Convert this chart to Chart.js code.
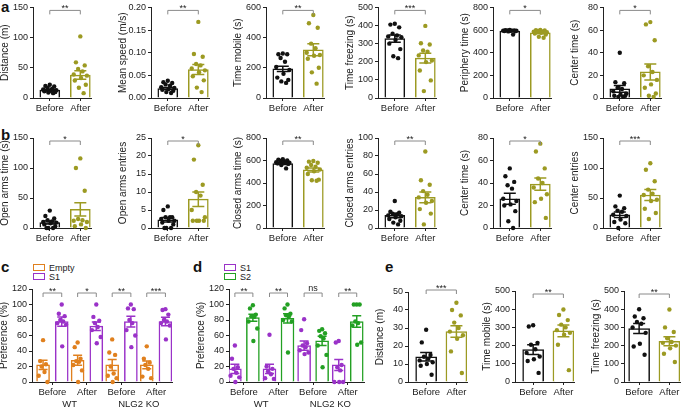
<!DOCTYPE html>
<html>
<head>
<meta charset="utf-8">
<script src="https://cdn.jsdelivr.net/npm/chart.js@4"></script>
<style>
body{margin:0;background:#fff;width:685px;height:407px;position:relative;overflow:hidden;font-family:"Liberation Sans",Arial,sans-serif}
canvas{position:absolute}
.lt{position:absolute;font-weight:bold;font-size:15px;line-height:15px;color:#111}
.lg{position:absolute;font-size:9px;line-height:10px;color:#222}
.bx{position:absolute;width:10px;height:5px;border:1.5px solid}
</style>
</head>
<body>
<div class="lt" style="left:1px;top:-1px">a</div>
<div class="lt" style="left:1px;top:127px">b</div>
<div class="lt" style="left:1px;top:259px">c</div>
<div class="lt" style="left:193px;top:259px">d</div>
<div class="lt" style="left:385px;top:259px">e</div>

<div class="bx" style="left:33px;top:264px;border-color:#e0801e"></div><div class="lg" style="left:49px;top:263px">Empty</div>
<div class="bx" style="left:33px;top:273px;border-color:#9a32c8"></div><div class="lg" style="left:49px;top:272px">S1</div>
<div class="bx" style="left:224px;top:264px;border-color:#9a32c8"></div><div class="lg" style="left:240px;top:263px">S1</div>
<div class="bx" style="left:224px;top:273px;border-color:#23a023"></div><div class="lg" style="left:240px;top:272px">S2</div>

<script>
const BLACK = '#111', OLIVE = '#9c9a22', ORANGE = '#e0801e', PURPLE = '#9a32c8', GREEN = '#23a023';

// tick labels
const pairLabels = ['Before', 'After'];
const sessionLabels = ['Before', 'After', 'Before', 'After'];
const genotypes = ['WT', 'NLG2 KO'];

// a: open field
const ofDistBefore = [22, 20, 19, 17, 15, 14, 13, 12, 11, 10, 9, 8];
const ofDistAfter = [102, 59, 54, 48, 44, 39, 37, 33, 29, 22, 17, 8];
const ofDistMean = [13, 38], ofDistSem = [1.5, 7];
const ofSpeedBefore = [0.038, 0.035, 0.033, 0.03, 0.027, 0.024, 0.022, 0.02, 0.018, 0.016, 0.013, 0.011];
const ofSpeedAfter = [0.168, 0.097, 0.091, 0.075, 0.072, 0.065, 0.061, 0.057, 0.048, 0.039, 0.023, 0.013];
const ofSpeedMean = [0.021, 0.063], ofSpeedSem = [0.002, 0.011];
const ofMobileBefore = [295, 290, 290, 265, 240, 205, 185, 160, 135, 120, 110, 100];
const ofMobileAfter = [550, 495, 465, 360, 330, 300, 285, 280, 260, 200, 170, 95];
const ofMobileMean = [193, 319], ofMobileSem = [18, 40];
const ofFreezeBefore = [410, 405, 390, 355, 345, 340, 335, 320, 300, 270, 230, 220];
const ofFreezeAfter = [398, 302, 295, 262, 255, 235, 207, 198, 152, 97, 38];
const ofFreezeMean = [328, 220], ofFreezeSem = [20, 27];
const ofPeriBefore = [600, 598, 597, 596, 595, 595, 594, 593, 592, 590, 588, 560];
const ofPeriAfter = [600, 598, 596, 592, 588, 585, 580, 576, 570, 560, 540, 532];
const ofPeriMean = [592, 575], ofPeriSem = [3, 7];
const ofCenterBefore = [40, 14, 13, 9, 8, 6, 4, 3, 2, 2, 1, 1];
const ofCenterAfter = [67, 65, 51, 28, 23, 20, 16, 12, 9, 4, 2, 1];
const ofCenterMean = [8, 23], ofCenterSem = [3, 7];
const ofStars = ['**', '**', '**', '***', '*', '*'];

// b: elevated plus maze
const epmOpenTimeBefore = [29, 20, 16, 13, 11, 10, 9, 8, 6, 3, 0, 0, 0];
const epmOpenTimeAfter = [116, 100, 62, 15, 13, 12, 10, 6, 3, 0];
const epmOpenTimeMean = [9, 31], epmOpenTimeSem = [2.5, 11];
const epmOpenEntBefore = [6, 5, 3, 3, 3, 2.5, 2, 2, 1.5, 1, 0, 0, 0];
const epmOpenEntAfter = [23, 19, 12, 10, 9, 5, 3, 2, 2, 2, 2];
const epmOpenEntMean = [2.3, 8], epmOpenEntSem = [0.6, 2];
const epmClosedTimeBefore = [612, 608, 600, 595, 590, 585, 580, 578, 575, 570, 560, 530];
const epmClosedTimeAfter = [595, 590, 580, 560, 545, 535, 520, 505, 480, 430, 425, 420];
const epmClosedTimeMean = [572, 516], epmClosedTimeSem = [7, 18];
const epmClosedEntBefore = [30, 18, 17, 16, 15, 14, 13, 12, 10, 8, 6, 4];
const epmClosedEntAfter = [85, 53, 48, 41, 37, 34, 30, 28, 21, 16, 4];
const epmClosedEntMean = [14, 34], epmClosedEntSem = [2.5, 6];
const epmCenterTimeBefore = [53, 46, 41, 38, 35, 26, 24, 21, 20, 15, 6, 0];
const epmCenterTimeAfter = [75, 68, 53, 44, 40, 36, 30, 26, 23, 9];
const epmCenterTimeMean = [26, 39], epmCenterTimeSem = [4.8, 5.5];
const epmCenterEntBefore = [54, 36, 33, 29, 27, 22, 20, 14, 10, 8, 0];
const epmCenterEntAfter = [108, 97, 78, 64, 57, 55, 47, 45, 32, 25, 15];
const epmCenterEntMean = [22, 55], epmCenterEntSem = [4.5, 9];
const epmStars = ['*', '*', '**', '**', '*', '***'];

// c: preference, Empty vs S1
const cEmpty = [[54, 27, 23, 20, 13, 8, 0], [51, 45, 30, 27, 26, 22, 15, 0], [55, 38, 35, 20, 11, 8, 5, 0], [46, 30, 25, 22, 17, 7, 5]];
const cS1 = [[100, 88, 85, 80, 78, 76, 74, 46], [100, 84, 79, 76, 71, 67, 58, 50], [100, 95, 94, 80, 76, 67, 60, 45], [94, 93, 87, 80, 78, 76, 73, 55]];
const cEmptyMean = [22, 28, 22, 22], cEmptySem = [6, 6.5, 7, 5];
const cS1Mean = [78, 72, 78, 78], cS1Sem = [6, 5.5, 7, 5.5];
const cStars = ['**', '*', '**', '***'];

// d: preference, S1 vs S2
const dS1 = [[47, 30, 19, 17, 12, 8, 6, 0], [61, 20, 17, 14, 10, 5, 4], [81, 67, 50, 47, 45, 41, 38, 36], [53, 51, 22, 19, 15, 0, 0, 0]];
const dS2 = [[99, 95, 87, 85, 84, 78, 69, 53], [100, 95, 88, 86, 85, 80, 78, 38], [68, 66, 63, 59, 56, 47, 35, 19], [100, 100, 100, 78, 76, 73, 51, 48]];
const dS1Mean = [17, 17, 47, 22], dS1Sem = [6, 6, 6, 7];
const dS2Mean = [83, 82, 53, 78], dS2Sem = [4.5, 6, 6, 7.5];
const dStars = ['**', '**', 'ns', '**'];

// e
const eDistBefore = [29, 22, 15, 14, 13, 12, 11, 10, 9, 4];
const eDistAfter = [44, 40, 37, 33, 30, 28, 26, 24, 17, 5];
const eDistMean = [14, 28], eDistSem = [2.4, 3.2];
const eMobileBefore = [312, 305, 215, 205, 180, 160, 140, 125, 115, 50];
const eMobileAfter = [398, 368, 340, 315, 300, 285, 270, 260, 205, 65];
const eMobileMean = [178, 281], eMobileSem = [27, 32];
const eFreezeBefore = [400, 360, 350, 330, 320, 300, 270, 210, 195, 150];
const eFreezeAfter = [398, 300, 275, 240, 220, 215, 200, 185, 155, 110];
const eFreezeMean = [294, 224], eFreezeSem = [27, 25];
const eStars = ['***', '**', '**'];

const YW = 34;
const PATTERN = [0, -0.6, 0.6, -0.3, 0.3, -0.9, 0.9, 0.1, -0.75, 0.75, -0.2, 0.45, -0.45];
Chart.defaults.font.family = '"Liberation Sans", Arial, sans-serif';
Chart.defaults.color = '#222';

function drawPanel(c) {
    const xh = c.xh || 16;
    const w = Math.round(YW + (c.xMax - c.xMin) * c.unit + 3);
    const h = Math.round(c.padTop + (c.bottom - c.top) + xh);
    const cv = document.createElement('canvas');
    cv.width = w; cv.height = h;
    cv.style.left = (c.axisX - YW) + 'px';
    cv.style.top = (c.top - c.padTop) + 'px';
    cv.style.width = w + 'px'; cv.style.height = h + 'px';
    document.body.appendChild(cv);

    const datasets = c.groups.map(g => ({
        type: 'scatter',
        data: g.vals.map((v, i) => ({x: g.x + PATTERN[i % PATTERN.length] * c.jit, y: v})),
        pointRadius: 2.2,
        pointBackgroundColor: g.color,
        pointBorderWidth: 0,
        clip: false,
        order: 1
    }));
    datasets.push({
        type: 'bar',
        data: c.groups.map(g => ({x: g.x, y: g.mean})),
        backgroundColor: '#fff',
        borderColor: c.groups.map(g => g.color),
        borderWidth: 1.5,
        barThickness: c.barPx,
        order: 2
    });

    new Chart(cv, {
        type: 'bar',
        data: {datasets: datasets},
        options: {
            responsive: false,
            animation: false,
            layout: {padding: {top: c.padTop, right: 3, left: 0, bottom: 0}},
            plugins: {legend: {display: false}, tooltip: {enabled: false}},
            scales: {
                x: {
                    type: 'linear', min: c.xMin, max: c.xMax, offset: false,
                    afterBuildTicks: s => { s.ticks = c.ticks.map(v => ({value: v})); },
                    afterFit: s => { s.height = xh; },
                    ticks: {autoSkip: false, maxRotation: 0, padding: 2, font: {size: 9.5}, callback: (v, i) => c.labels[i]},
                    grid: {drawOnChartArea: false, tickLength: 3, color: '#222', offset: false},
                    border: {color: '#222', width: 1}
                },
                y: {
                    min: 0, max: c.yMax,
                    afterFit: s => { s.width = YW; },
                    ticks: {stepSize: c.yStep, padding: 2, font: {size: 9}, callback: v => c.fmt ? c.fmt(v) : v},
                    grid: {drawOnChartArea: false, tickLength: 3, color: '#222'},
                    border: {color: '#222', width: 1},
                    title: {display: true, text: c.title, font: {size: 10}, padding: {top: 0, bottom: 0}}
                }
            }
        },
        plugins: [{
            id: 'extras',
            afterDatasetsDraw(chart) {
                const ctx = chart.ctx, xs = chart.scales.x, ys = chart.scales.y;
                ctx.save();
                // error bars
                c.groups.forEach(g => {
                    const px = xs.getPixelForValue(g.x);
                    const yHi = ys.getPixelForValue(g.mean + g.sem);
                    const yLo = ys.getPixelForValue(g.mean - g.sem);
                    ctx.strokeStyle = g.color;
                    ctx.lineWidth = 1.5;
                    ctx.beginPath();
                    ctx.moveTo(px, yLo); ctx.lineTo(px, yHi);
                    ctx.moveTo(px - c.cap, yHi); ctx.lineTo(px + c.cap, yHi);
                    ctx.moveTo(px - c.cap, yLo); ctx.lineTo(px + c.cap, yLo);
                    ctx.stroke();
                });
                // significance brackets
                ctx.font = '9px "Liberation Sans", Arial';
                ctx.textAlign = 'center';
                c.sig.forEach(s => {
                    const xa = xs.getPixelForValue(s.x1), xb = xs.getPixelForValue(s.x2);
                    const y = chart.chartArea.top + c.brOff;
                    ctx.strokeStyle = '#8a8a8a';
                    ctx.lineWidth = 1;
                    ctx.beginPath();
                    ctx.moveTo(xa, y + 4); ctx.lineTo(xa, y); ctx.lineTo(xb, y); ctx.lineTo(xb, y + 4);
                    ctx.stroke();
                    ctx.fillStyle = '#222';
                    ctx.textBaseline = 'alphabetic';
                    ctx.fillText(s.text, (xa + xb) / 2, s.text === 'ns' ? y - 2 : y + 1);
                });
                // genotype labels
                (c.groupLabels || []).forEach(gl => {
                    ctx.fillStyle = '#222';
                    ctx.font = '9.5px "Liberation Sans", Arial';
                    ctx.textBaseline = 'middle';
                    ctx.fillText(gl.text, xs.getPixelForValue(gl.x), chart.chartArea.bottom + 22);
                });
                ctx.restore();
            }
        }]
    });
}

function pairPanel(axisX, top, bottom, padTop, title, yMax, yStep, before, after, mean, sem, stars, extra) {
    drawPanel(Object.assign({
        axisX: axisX, top: top, bottom: bottom, padTop: padTop,
        xMin: -0.55, xMax: 1.35, unit: 31, barPx: 20, jit: 0.24, cap: 6, brOff: 3,
        yMax: yMax, yStep: yStep, title: title,
        ticks: [0, 1], labels: pairLabels,
        groups: [
            {x: 0, vals: before, mean: mean[0], sem: sem[0], color: BLACK},
            {x: 1, vals: after, mean: mean[1], sem: sem[1], color: OLIVE}
        ],
        sig: [{x1: 0, x2: 1, text: stars}]
    }, extra || {}));
}

// row a
pairPanel(33, 7, 98, 7, 'Distance (m)', 150, 50, ofDistBefore, ofDistAfter, ofDistMean, ofDistSem, ofStars[0]);
pairPanel(151, 7, 98, 7, 'Mean speed (m/s)', 0.2, 0.05, ofSpeedBefore, ofSpeedAfter, ofSpeedMean, ofSpeedSem, ofStars[1], {fmt: v => v.toFixed(2)});
pairPanel(266, 7, 98, 7, 'Time mobile (s)', 600, 200, ofMobileBefore, ofMobileAfter, ofMobileMean, ofMobileSem, ofStars[2]);
pairPanel(378, 7, 98, 7, 'Time freezing (s)', 500, 100, ofFreezeBefore, ofFreezeAfter, ofFreezeMean, ofFreezeSem, ofStars[3]);
pairPanel(493, 7, 98, 7, 'Periphery time (s)', 800, 200, ofPeriBefore, ofPeriAfter, ofPeriMean, ofPeriSem, ofStars[4]);
pairPanel(603, 7, 98, 7, 'Center time (s)', 80, 20, ofCenterBefore, ofCenterAfter, ofCenterMean, ofCenterSem, ofStars[5]);

// row b
pairPanel(33, 138, 228, 12, 'Open arms time (s)', 150, 50, epmOpenTimeBefore, epmOpenTimeAfter, epmOpenTimeMean, epmOpenTimeSem, epmStars[0]);
pairPanel(151, 138, 228, 12, 'Open arms entries', 25, 5, epmOpenEntBefore, epmOpenEntAfter, epmOpenEntMean, epmOpenEntSem, epmStars[1]);
pairPanel(266, 138, 228, 12, 'Closed arms time (s)', 800, 200, epmClosedTimeBefore, epmClosedTimeAfter, epmClosedTimeMean, epmClosedTimeSem, epmStars[2]);
pairPanel(378, 138, 228, 12, 'Closed arms entries', 100, 20, epmClosedEntBefore, epmClosedEntAfter, epmClosedEntMean, epmClosedEntSem, epmStars[3]);
pairPanel(493, 138, 228, 12, 'Center time (s)', 80, 20, epmCenterTimeBefore, epmCenterTimeAfter, epmCenterTimeMean, epmCenterTimeSem, epmStars[4]);
pairPanel(603, 138, 228, 12, 'Center entries', 150, 50, epmCenterEntBefore, epmCenterEntAfter, epmCenterEntMean, epmCenterEntSem, epmStars[5]);

// rows c and d
function prefPanel(axisX, xMin, xMax, half, valsA, meanA, semA, colA, valsB, meanB, semB, colB, stars) {
    const groups = [], sig = [];
    for (let i = 0; i < 4; i++) {
        groups.push({x: i - half, vals: valsA[i], mean: meanA[i], sem: semA[i], color: colA});
        groups.push({x: i + half, vals: valsB[i], mean: meanB[i], sem: semB[i], color: colB});
        sig.push({x1: i - half, x2: i + half, text: stars[i]});
    }
    drawPanel({
        axisX: axisX, top: 289, bottom: 382, padTop: 8, xh: 25,
        xMin: xMin, xMax: xMax, unit: 34.8, barPx: 13, jit: 0.14, cap: 4.5, brOff: 4,
        yMax: 120, yStep: 20, title: 'Preference (%)',
        ticks: [0, 1, 2, 3], labels: sessionLabels,
        groups: groups, sig: sig,
        groupLabels: [{x: 0.5, text: genotypes[0]}, {x: 2.5, text: genotypes[1]}]
    });
}
prefPanel(32, -0.59, 3.46, 0.27, cEmpty, cEmptyMean, cEmptySem, ORANGE, cS1, cS1Mean, cS1Sem, PURPLE, cStars);
prefPanel(229, -0.43, 3.47, 0.26, dS1, dS1Mean, dS1Sem, PURPLE, dS2, dS2Mean, dS2Sem, GREEN, dStars);

// row e
pairPanel(408, 292, 382, 9, 'Distance (m)', 50, 10, eDistBefore, eDistAfter, eDistMean, eDistSem, eStars[0], {xMin: -0.6, barPx: 21, brOff: -2});
pairPanel(515, 291, 382, 9, 'Time mobile (s)', 500, 100, eMobileBefore, eMobileAfter, eMobileMean, eMobileSem, eStars[1], {xMin: -0.6, barPx: 21});
pairPanel(624, 291, 382, 9, 'Time freezing (s)', 500, 100, eFreezeBefore, eFreezeAfter, eFreezeMean, eFreezeSem, eStars[2], {xMin: -0.5, barPx: 21});
</script>
</body>
</html>
